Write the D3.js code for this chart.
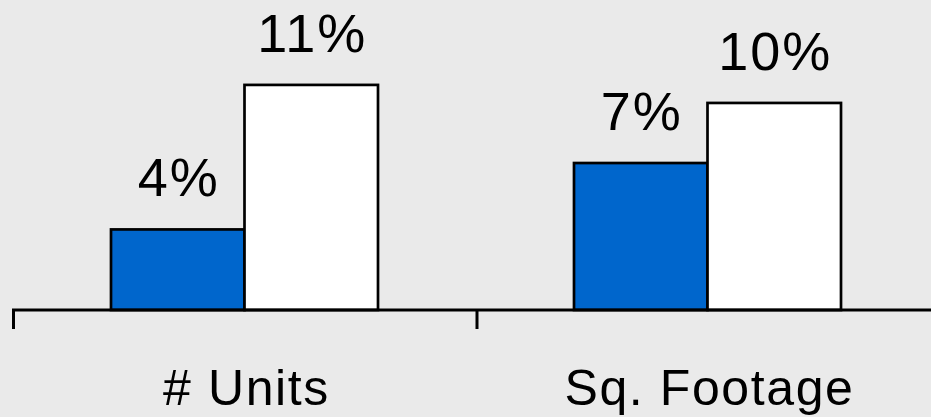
<!DOCTYPE html>
<html>
<head>
<meta charset="utf-8">
<script src="https://cdn.jsdelivr.net/npm/d3@7"></script>
<style>
  body { margin:0; background:#eaeaea; }
  svg { display:block; font-family:"Liberation Sans", Arial, sans-serif; }
</style>
</head>
<body>
<div id="chart"></div>
<script>
var categories = ["# Units", "Sq. Footage"]
var seriesNames = ["a", "b"]
var seriesA = [3.93, 7.17]
var seriesB = [10.98, 10.1]
var seriesColours = ["#0066cc", "#ffffff"]

var width = 931, height = 417
var baseY = 310

var data = categories.map(function(c,i){
  return {cat:c, values:[{key:"a",v:seriesA[i]},{key:"b",v:seriesB[i]}]}
})

var svg = d3.select("#chart").append("svg")
  .attr("width",width).attr("height",height)

svg.append("rect").attr("width",width).attr("height",height).attr("fill","#eaeaea")

var x0 = d3.scaleBand().domain(categories).range([14,940]).padding(0)
var x1 = d3.scaleBand().domain(seriesNames).range([97, x0.bandwidth()-99]).padding(0)
var y = d3.scaleLinear().domain([0,1]).range([baseY, baseY-20.5])
var colour = d3.scaleOrdinal().domain(seriesNames).range(seriesColours)

var groups = svg.selectAll("g.group").data(data).enter().append("g")
  .classed("group",true)
  .attr("transform",d=>"translate("+x0(d.cat)+",0)")

groups.selectAll("rect").data(d=>d.values).enter().append("rect")
  .attr("x",d=>x1(d.key))
  .attr("y",d=>y(d.v))
  .attr("width",x1.bandwidth())
  .attr("height",d=>baseY-y(d.v))
  .attr("fill",d=>colour(d.key))
  .attr("stroke","#000")
  .attr("stroke-width",2.7)

groups.selectAll("text.val").data(d=>d.values).enter().append("text")
  .classed("val",true)
  .attr("x",d=>x1(d.key)+x1.bandwidth()/2+1)
  .attr("y",d=>y(d.v)-33)
  .attr("text-anchor","middle")
  .style("font-size","54px")
  .style("letter-spacing","2px")
  .text(d=>d3.format(".0f")(d.v)+"%")

// axis
var axis = d3.axisBottom(x0).tickSizeInner(0).tickSizeOuter(0).tickFormat("")
var ag = svg.append("g").attr("transform","translate(0,"+baseY+")").call(axis)
ag.select(".domain").attr("stroke","#000").attr("stroke-width",3)
  .attr("d","M12,0H"+width)
// ticks at band boundaries
ag.selectAll("line.bound").data([x0(categories[0])-0.5, x0(categories[1]), x0.range()[1]]).enter()
  .append("line").classed("bound",true)
  .attr("x1",d=>d).attr("x2",d=>d).attr("y1",0).attr("y2",19)
  .attr("stroke","#000").attr("stroke-width",3)

svg.selectAll("text.cat").data(categories).enter().append("text")
  .classed("cat",true)
  .attr("x",d=>x0(d)+x0.bandwidth()/2+1)
  .attr("y",405)
  .attr("text-anchor","middle")
  .style("font-size","50px")
  .style("letter-spacing","1.6px")
  .text(d=>d)
</script>
</body>
</html>
